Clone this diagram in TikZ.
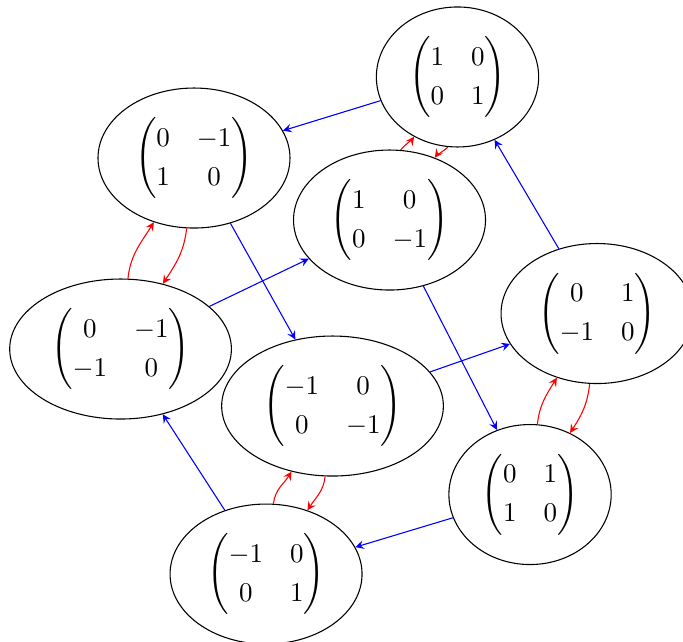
\documentclass[tikz,border=0pt]{standalone}
\usepackage{amsmath}
\usetikzlibrary{shapes.geometric}
\renewcommand{\arraystretch}{1.2}
\begin{document}
\begin{tikzpicture}[line join=round, >=stealth,
		elem/.style={draw, ellipse},
		rot/.style={->, blue},
		refl/.style={->, red},
		lift/.style={out=84, in=-122},
		drop/.style={out=-96, in=57}]
	\useasboundingbox (0,0) rectangle (8.89,-8.344);
	
	\node[elem] (E) at (5.955,-1.002) {$\begin{pmatrix}1&0\\0&1\end{pmatrix}$};
	\node[elem] (R) at (2.525,-2.057) {$\begin{pmatrix}0&-1\\1&0\end{pmatrix}$};
	\node[elem] (S) at (5.070,-2.864) {$\begin{pmatrix}1&0\\0&-1\end{pmatrix}$};
	\node[elem] (SR) at (1.569,-4.543) {$\begin{pmatrix}0&-1\\-1&0\end{pmatrix}$};
	\node[elem] (R3) at (7.771,-4.081) {$\begin{pmatrix}0&1\\-1&0\end{pmatrix}$};
	\node[elem] (R2) at (4.328,-5.285) {$\begin{pmatrix}-1&0\\0&-1\end{pmatrix}$};
	\node[elem] (SR3) at (6.899,-6.437) {$\begin{pmatrix}0&1\\1&0\end{pmatrix}$};
	\node[elem] (SR2) at (3.463,-7.472) {$\begin{pmatrix}-1&0\\0&1\end{pmatrix}$};
	
	\foreach \a/\b in {E/R, R/R2, R2/R3, R3/E, SR/S, S/SR3, SR3/SR2, SR2/SR}
		\draw[rot] (\a) -- (\b);
	
	% red pairs: upward and downward
	\foreach \a/\b in {SR/R, SR2/R2, SR3/R3}{
		\draw[refl] (\a) to[lift] (\b);
		\draw[refl] (\b) to[drop] (\a);
	}
	\draw[refl] (S) to[out=81, in=-126, looseness=0.15] (E);
	\draw[refl] (E) to[out=-98, in=54, looseness=0.15] (S);
\end{tikzpicture}
\end{document}
